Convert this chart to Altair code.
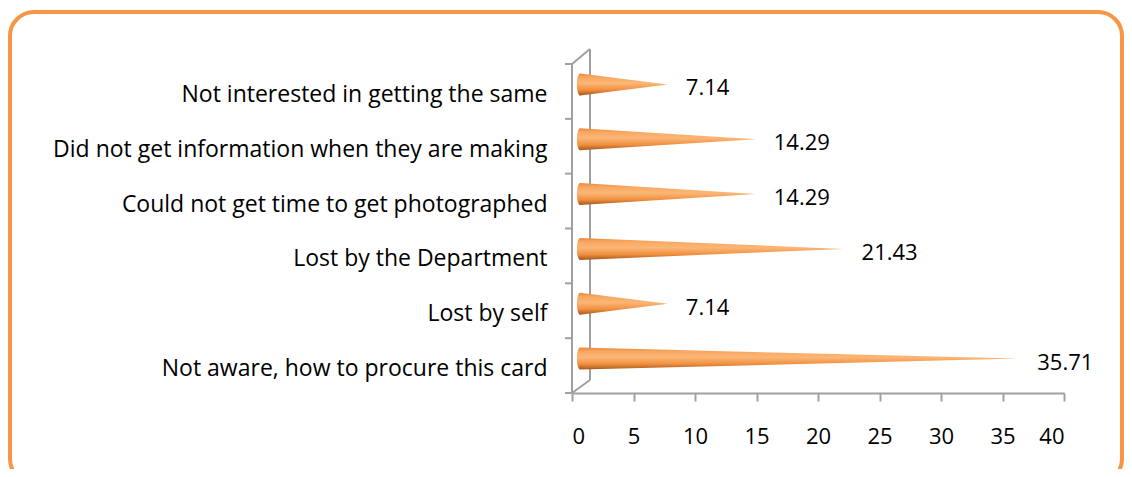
import altair as alt
import pandas as pd

# ---- data ----
categories = [
    "Not aware, how to procure this card",
    "Lost by self",
    "Lost by the Department",
    "Could not get time to get photographed",
    "Did not get information when they are making",
    "Not interested in getting the same",
]
values = [35.71, 7.14, 21.43, 14.29, 14.29, 7.14]
x_ticks = [0, 5, 10, 15, 20, 25, 30, 35, 40]

# ---- layout constants ----
W, H = 492, 329
PAD = {"left": 564, "top": 56, "right": 60, "bottom": 76}
FONT = "Open Sans"
FS_CAT = 23
FS_NUM = 22
GRAY = "#A0A0A0"
ORANGE = "#F79646"
HALF = 0.2          # cone half-thickness in category units
DX, DY = 8, -7      # 3D depth offset in px

n = len(categories)
idx = list(range(n))

cone_rows = []
for i, (c, v) in enumerate(zip(categories, values)):
    cone_rows.append({"cat": c, "x": 0.0, "lo": i - HALF, "hi": i + HALF})
    cone_rows.append({"cat": c, "x": v, "lo": float(i), "hi": float(i)})
cones = pd.DataFrame(cone_rows)
bars = pd.DataFrame({"cat": categories, "val": values, "i": idx,
                     "lbl": [f"{v:.2f}" for v in values]})
bounds = pd.DataFrame({"b": [k - 0.5 for k in range(n + 1)]})

xscale = alt.Scale(domain=[0, 40], nice=False)
yscale = alt.Scale(domain=[-0.5, n - 0.5], nice=False, zero=False)

grad = {
    "gradient": "linear", "x1": 0, "y1": 0, "x2": 0, "y2": 1,
    "stops": [
        {"offset": 0.0, "color": "#E9893B"},
        {"offset": 0.18, "color": "#F8A862"},
        {"offset": 0.45, "color": "#FBB676"},
        {"offset": 0.75, "color": "#F0903F"},
        {"offset": 1.0, "color": "#A5571B"},
    ],
}

label_arr = "[" + ",".join("'" + c.replace("'", "\\'") + "'" for c in categories) + "]"

base = alt.Chart(bars)

# outer rounded orange frame
frame = base.mark_rect(
    fillOpacity=0, stroke=ORANGE, strokeWidth=4, cornerRadius=24
).encode(
    x=alt.value(-562), x2=alt.value(550), y=alt.value(-52), y2=alt.value(419)
).transform_filter("datum.i == 0")

# y axis labels (categories) on quantitative index scale
yaxis = alt.Axis(
    values=idx, labelExpr=f"{label_arr}[datum.value]", title=None,
    domain=False, ticks=False, tickSize=0, grid=False, labelPadding=25,
    labelOffset=3,
    labelFontSize=FS_CAT, labelFont=FONT, labelColor="black", labelLimit=700,
)
xaxis = alt.Axis(
    values=x_ticks, title=None, grid=False, domainColor=GRAY, domainWidth=2,
    tickColor=GRAY, tickWidth=2, tickSize=8, labelFontSize=FS_NUM, labelFont=FONT,
    labelColor="black", labelBaseline="middle", labelPadding=35,
)

# base ellipses of the cones
ellipse = "M0,-1 A0.28,1 0 1,1 0,1 A0.28,1 0 1,1 0,-1 Z"
bases = base.mark_point(
    shape=ellipse, size=484, filled=True, fill=grad, opacity=1,
    xOffset=DX, yOffset=DY,
).encode(
    x=alt.X("zero:Q", scale=xscale, axis=xaxis),
    y=alt.Y("i:Q", scale=yscale, axis=yaxis),
).transform_calculate(zero="0")

cone = alt.Chart(cones).mark_area(
    orient="vertical", color=grad, xOffset=DX, yOffset=DY, y2Offset=DY,
).encode(
    x=alt.X("x:Q", scale=xscale),
    y=alt.Y("lo:Q", scale=yscale),
    y2="hi:Q",
    detail="cat:N",
)

labels = base.mark_text(
    align="left", baseline="middle", dx=26, dy=-3, font=FONT, fontSize=FS_NUM,
    color="black",
).encode(
    x=alt.X("val:Q", scale=xscale),
    y=alt.Y("i:Q", scale=yscale),
    text="lbl:N",
)

# 3D frame: front wall line, back wall line, diagonals, category ticks
front = base.mark_rule(color=GRAY, strokeWidth=2).encode(
    x=alt.value(0), y=alt.value(0), y2=alt.value(H)
).transform_filter("datum.i == 0")
back = base.mark_rule(color=GRAY, strokeWidth=2).encode(
    x=alt.value(18), y=alt.value(-15), y2=alt.value(H - 13)
).transform_filter("datum.i == 0")
diag_top = base.mark_rule(color=GRAY, strokeWidth=2).encode(
    x=alt.value(0), x2=alt.value(18), y=alt.value(0), y2=alt.value(-15)
).transform_filter("datum.i == 0")
diag_bot = base.mark_rule(color=GRAY, strokeWidth=2).encode(
    x=alt.value(0), x2=alt.value(18), y=alt.value(H), y2=alt.value(H - 13)
).transform_filter("datum.i == 0")
cat_ticks = alt.Chart(bounds).mark_rule(color=GRAY, strokeWidth=2).encode(
    x=alt.value(-7), x2=alt.value(0),
    y=alt.Y("b:Q", scale=yscale),
)

chart = alt.layer(
    frame, bases, front, back, diag_top, diag_bot, cat_ticks, cone, labels
).properties(
    width=W, height=H, padding=PAD, autosize="none", background="white"
).configure_view(stroke=None)

chart.save("out.html", embed_options={"renderer": "svg", "actions": False})
